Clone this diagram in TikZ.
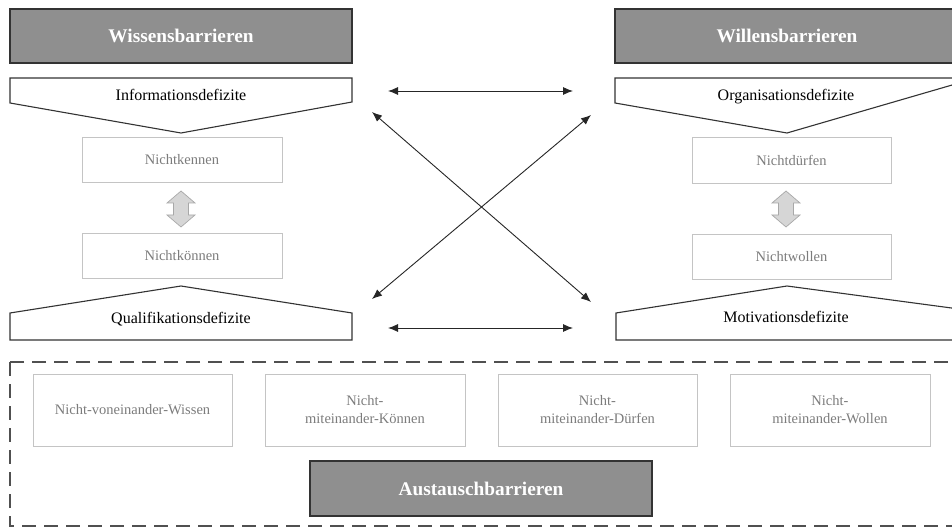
\documentclass[tikz,border=0pt]{standalone}
\usepackage{fontspec}
\setmainfont{Liberation Serif}
\usetikzlibrary{arrows.meta}

\definecolor{barfill}{HTML}{8F8F8F}
\definecolor{barline}{HTML}{333333}
\definecolor{softline}{HTML}{C4C4C4}
\definecolor{softtext}{HTML}{7C7C7C}
\definecolor{swapfill}{HTML}{D6D6D6}
\definecolor{swapline}{HTML}{A8A8A8}
\definecolor{framecol}{HTML}{505050}

\begin{document}
\begin{tikzpicture}[x=1pt,y=-1pt,
  barrier/.style={draw=barline,line width=1.1pt,fill=barfill,text=white,
    font=\fontsize{19.3}{22}\selectfont\bfseries,inner sep=0pt,minimum height=54pt},
  softbox/.style={draw=softline,line width=0.8pt,fill=white,text=softtext,
    font=\fontsize{14.5}{18}\selectfont,inner sep=0pt,align=center},
  deficit/.style={draw=barline,line width=1.1pt,fill=white,line join=miter},
  deftext/.style={font=\fontsize{16}{19}\selectfont,text=black,inner sep=0pt,anchor=base},
  link/.style={draw=black!85,line width=0.9pt,
    {Latex[length=10pt,width=8pt]}-{Latex[length=10pt,width=8pt]}},
  swaparrow/.style={draw=swapline,line width=0.7pt,fill=swapfill,line join=miter},
  frame/.style={draw=framecol,line width=1.3pt,dash pattern=on 14pt off 8pt}
]
\clip (0,0) rectangle (952,529);
\fill[white] (0,0) rectangle (952,529);

% dashed frame around the exchange barriers
\draw[frame] (10,362) rectangle (975,526);

% header boxes
\node[barrier,minimum width=342pt] (wissen) at (181,36) {Wissensbarrieren};
\node[barrier,minimum width=344pt] (willen) at (787,36) {Willensbarrieren};
\node[barrier,minimum width=342pt,minimum height=55pt] (austausch) at (481,488.5) {Austauschbarrieren};

% deficit chevrons, left column
\draw[deficit] (10,78) -- (352,78) -- (352,102) -- (181,133) -- (10,103) -- cycle;
\node[deftext] (info) at (181,101) {Informationsdefizite};
\draw[deficit] (10,340) -- (352,340) -- (352,313) -- (181,286) -- (10,313) -- cycle;
\node[deftext] (quali) at (181,323) {Qualifikationsdefizite};

% deficit chevrons, right column
\draw[deficit] (615,78) -- (959,78) -- (959,83) -- (787,133) -- (615,103) -- cycle;
\node[deftext] (orga) at (786,101) {Organisationsdefizite};
\draw[deficit] (616,340) -- (959,340) -- (959,309) -- (787,286) -- (616,313) -- cycle;
\node[deftext] (moti) at (786,322) {Motivationsdefizite};

% inner boxes
\node[softbox,minimum width=200pt,minimum height=45pt] (kennen) at (182,159.5) {Nichtkennen};
\node[softbox,minimum width=200pt,minimum height=45pt] (koennen) at (182,255.5) {Nichtkönnen};
\node[softbox,minimum width=199pt,minimum height=46pt] (duerfen) at (791.5,160) {Nichtdürfen};
\node[softbox,minimum width=199pt,minimum height=45pt] (wollen) at (791.5,256.5) {Nichtwollen};

% two-way block arrows between the inner boxes
\foreach \cx in {181,786}{
  \draw[swaparrow] (\cx,191) -- (\cx+14,203) -- (\cx+7.5,203) -- (\cx+7.5,215)
    -- (\cx+14,215) -- (\cx,227) -- (\cx-14,215) -- (\cx-7.5,215)
    -- (\cx-7.5,203) -- (\cx-14,203) -- cycle;
}

% exchange barrier boxes
\node[softbox,minimum width=199pt,minimum height=72pt] (b1) at (132.5,410) {Nicht-voneinander-Wissen};
\node[softbox,minimum width=200pt,minimum height=72pt] (b2) at (365,410) {Nicht-\\miteinander-Können};
\node[softbox,minimum width=199pt,minimum height=72pt] (b3) at (597.5,410) {Nicht-\\miteinander-Dürfen};
\node[softbox,minimum width=200pt,minimum height=72pt] (b4) at (830,410) {Nicht-\\miteinander-Wollen};

% connectors between the deficit groups
\coordinate (tl) at (388,91);  \coordinate (tr) at (573,91);
\coordinate (bl) at (388,328); \coordinate (br) at (573,328);
\coordinate (dul) at (372,112); \coordinate (dlr) at (591,302);
\coordinate (dll) at (372,299); \coordinate (dur) at (591,115);
\draw[link] (tl) -- (tr);
\draw[link] (bl) -- (br);
\draw[link] (dul) -- (dlr);
\draw[link] (dll) -- (dur);
\end{tikzpicture}
\end{document}
